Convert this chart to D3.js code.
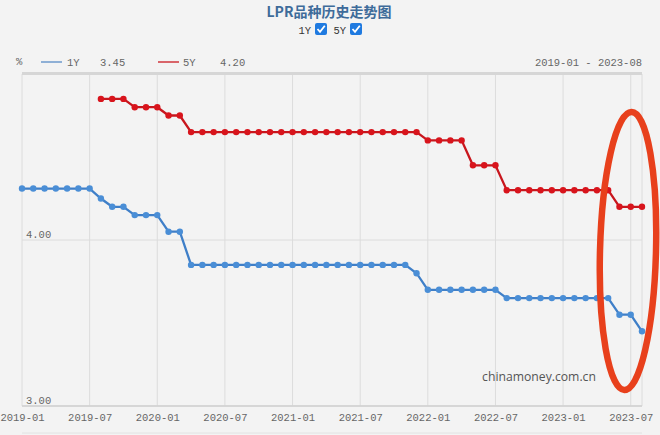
<!DOCTYPE html>
<html><head><meta charset="utf-8">
<script src="https://cdn.jsdelivr.net/npm/d3@7"></script>
<style>html,body{margin:0;padding:0;background:#f3f3f3;}svg{display:block;}</style>
</head><body>
<script>
// ---- data ----
const months = [];
for (let y = 2019; y <= 2023; y++) for (let m = 1; m <= 12; m++) {
  if (y === 2023 && m > 8) break;
  months.push(y + "-" + String(m).padStart(2, "0"));
}
const lpr1Y = [4.31,4.31,4.31,4.31,4.31,4.31,4.31,4.25,4.20,4.20,4.15,4.15,
  4.15,4.05,4.05,3.85,3.85,3.85,3.85,3.85,3.85,3.85,3.85,3.85,
  3.85,3.85,3.85,3.85,3.85,3.85,3.85,3.85,3.85,3.85,3.85,3.80,
  3.70,3.70,3.70,3.70,3.70,3.70,3.70,3.65,3.65,3.65,3.65,3.65,
  3.65,3.65,3.65,3.65,3.65,3.55,3.55,3.45];
const lpr5YStart = "2019-08";
const lpr5Y = [4.85,4.85,4.85,4.80,4.80,
  4.80,4.75,4.75,4.65,4.65,4.65,4.65,4.65,4.65,4.65,4.65,4.65,
  4.65,4.65,4.65,4.65,4.65,4.65,4.65,4.65,4.65,4.65,4.65,4.65,
  4.60,4.60,4.60,4.60,4.45,4.45,4.45,4.30,4.30,4.30,4.30,4.30,
  4.30,4.30,4.30,4.30,4.30,4.20,4.20,4.20];
const xTickLabels = ["2019-01","2019-07","2020-01","2020-07","2021-01","2021-07","2022-01","2022-07","2023-01","2023-07"];
const yTickValues = [3.00, 4.00];
const yDomain = [3, 5];

const W = 660, H = 435;
const L = 22, R = 642, T = 74, B = 406;
const mono = "'Liberation Mono', 'DejaVu Sans Mono', monospace";

const svg = d3.select("body").append("svg").attr("width", W).attr("height", H);
svg.append("rect").attr("width", W).attr("height", H).attr("fill", "#f3f3f3");

const x = d3.scalePoint().domain(months).range([L, R]);
const y = d3.scaleLinear().domain(yDomain).range([B, T]);

// title
svg.append("text").attr("x", 329).attr("y", 17).attr("text-anchor", "middle")
  .attr("font-family", "'Noto Sans CJK SC', sans-serif").attr("font-weight", 700)
  .attr("font-size", 14).attr("fill", "#3e6b9a").text("LPR品种历史走势图");

// checkbox row
function checkbox(cx, label) {
  const g = svg.append("g");
  g.append("text").attr("x", cx - 10).attr("y", 34).attr("text-anchor", "end")
    .attr("font-family", mono).attr("font-size", 10.5).attr("fill", "#333").text(label);
  g.append("rect").attr("x", cx - 6).attr("y", 23).attr("width", 12).attr("height", 12)
    .attr("rx", 2).attr("fill", "#1f7ae0");
  g.append("path").attr("d", `M${cx-3.5},${29} L${cx-1},${31.8} L${cx+3.8},${25.8}`)
    .attr("fill", "none").attr("stroke", "#fff").attr("stroke-width", 1.8);
}
checkbox(321, "1Y");
checkbox(356, "5Y");

// legend row
const lg = svg.append("g").attr("font-family", mono).attr("font-size", 10.5).attr("fill", "#666");
lg.append("text").attr("x", 16).attr("y", 65).text("%");
lg.append("line").attr("x1", 41).attr("x2", 62).attr("y1", 62).attr("y2", 62).attr("stroke", "#8fb0d6").attr("stroke-width", 2);
lg.append("text").attr("x", 67).attr("y", 66).text("1Y");
lg.append("text").attr("x", 100).attr("y", 66).text(lpr1Y[lpr1Y.length - 1].toFixed(2));
lg.append("line").attr("x1", 158).attr("x2", 179).attr("y1", 62).attr("y2", 62).attr("stroke", "#d9656a").attr("stroke-width", 2);
lg.append("text").attr("x", 183).attr("y", 66).text("5Y");
lg.append("text").attr("x", 220).attr("y", 66).text(lpr5Y[lpr5Y.length - 1].toFixed(2));
lg.append("text").attr("x", 642).attr("y", 66).attr("text-anchor", "end")
  .text(months[0] + " - " + months[months.length - 1]);

// gridlines
const grid = svg.append("g");
const vTicks = xTickLabels.concat([months[months.length - 1]]);
grid.selectAll("line.v").data(vTicks).join("line")
  .attr("x1", d => x(d)).attr("x2", d => x(d)).attr("y1", T).attr("y2", B)
  .attr("stroke", "#dcdcdc").attr("stroke-width", 1);
grid.selectAll("line.h").data(yTickValues).join("line")
  .attr("x1", L).attr("x2", R).attr("y1", d => y(d)).attr("y2", d => y(d))
  .attr("stroke", "#dcdcdc").attr("stroke-width", 1);
// top band and bottom line
svg.append("rect").attr("x", L).attr("y", T - 2).attr("width", R - L).attr("height", 3).attr("fill", "#d6d6d6");
svg.append("line").attr("x1", L).attr("x2", R).attr("y1", B).attr("y2", B).attr("stroke", "#d0d0d0").attr("stroke-width", 1.5);
svg.append("line").attr("x1", L).attr("x2", R).attr("y1", 433).attr("y2", 433).attr("stroke", "#e2e2e2").attr("stroke-width", 1);

// y labels
svg.append("g").selectAll("text").data(yTickValues).join("text")
  .attr("x", 26).attr("y", d => y(d) - 2)
  .attr("font-family", mono).attr("font-size", 10.5).attr("fill", "#666")
  .text(d => d.toFixed(2));

// x axis labels
const xAxis = d3.axisBottom(x).tickValues(xTickLabels).tickSize(0).tickPadding(0);
const xg = svg.append("g").attr("transform", `translate(0,${B + 8})`).call(xAxis);
xg.select(".domain").remove();
xg.selectAll("text").attr("font-family", mono).attr("font-size", 10.5).attr("fill", "#666").attr("dy", "0.71em");

// watermark
svg.append("text").attr("x", 539).attr("y", 381).attr("text-anchor", "middle")
  .attr("font-family", "'Open Sans', 'DejaVu Sans', sans-serif").attr("font-size", 12.2)
  .attr("fill", "#555").text("chinamoney.com.cn");

// series
const d1 = months.map((m, i) => ({ m, v: lpr1Y[i] }));
const off = months.indexOf(lpr5YStart);
const d5 = lpr5Y.map((v, i) => ({ m: months[off + i], v }));
const line = d3.line().x(d => x(d.m)).y(d => y(d.v));

function drawSeries(data, lineColor, dotColor) {
  svg.append("path").datum(data).attr("d", line).attr("fill", "none")
    .attr("stroke", lineColor).attr("stroke-width", 2.3);
  svg.append("g").selectAll("circle").data(data).join("circle")
    .attr("cx", d => x(d.m)).attr("cy", d => y(d.v)).attr("r", 3.2).attr("fill", dotColor);
}
drawSeries(d5, "#c8161d", "#d8141c");
drawSeries(d1, "#3f7fc8", "#4a8ed6");

// red annotation ellipse
svg.append("ellipse").attr("cx", 628).attr("cy", 251).attr("rx", 28).attr("ry", 139)
  .attr("transform", "rotate(1.5,628,251)")
  .attr("fill", "none").attr("stroke", "#e8401c").attr("stroke-width", 6.5);
</script>
</body></html>
